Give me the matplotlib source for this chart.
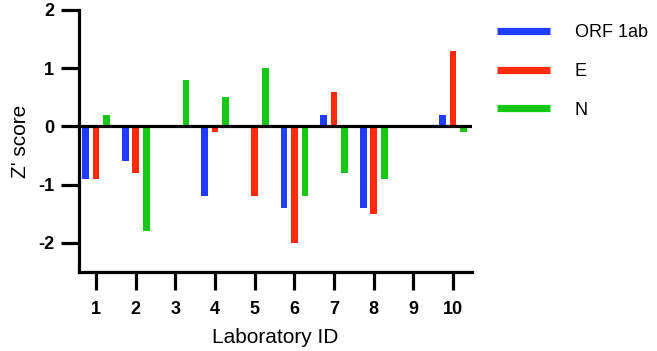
import matplotlib
matplotlib.use("Agg")
import matplotlib.pyplot as plt
import numpy as np
from matplotlib.lines import Line2D

plt.rcParams['font.family'] = ['Liberation Sans', 'DejaVu Sans']

labs = ["1", "2", "3", "4", "5", "6", "7", "8", "9", "10"]
series_names = ["ORF 1ab", "E", "N"]
orf1ab = [-0.9, -0.6, 0.0, -1.2, 0.0, -1.4, 0.2, -1.4, 0.0, 0.2]
e_gene = [-0.9, -0.8, 0.0, -0.1, -1.2, -2.0, 0.6, -1.5, 0.0, 1.3]
n_gene = [0.2, -1.8, 0.8, 0.5, 1.0, -1.2, -0.8, -0.9, 0.0, -0.1]
colors = ["#1f3cff", "#ff2a0a", "#14c814"]

fig = plt.figure(figsize=(6.57, 3.51), dpi=100)
ax = fig.add_axes([79/657, 1-272/351, (472-79)/657, (272-10)/351])

x = np.arange(1, len(labs) + 1)
offs = [-0.26, 0.0, 0.27]
w = 0.17
for vals, off, c in zip([orf1ab, e_gene, n_gene], offs, colors):
    ax.bar(x + off, vals, width=w, color=c, zorder=2)

ax.axhline(0, color="black", lw=2.3, zorder=3)
ax.set_xlim(0.57, 10.48)
ax.set_ylim(-2.5, 2.0)
ax.set_xticks(x)
ax.set_xticklabels(labs, fontweight="bold", fontsize=13)
ax.set_yticks([-2, -1, 0, 1, 2])
ax.set_yticklabels(["-2", "-1", "0", "1", "2"], fontweight="bold", fontsize=13)
for s in ["top", "right"]:
    ax.spines[s].set_visible(False)
for s in ["left", "bottom"]:
    ax.spines[s].set_linewidth(2.3)
ax.tick_params(axis="both", length=13, width=2.3, direction="out")
ax.tick_params(axis="y", pad=5)
ax.tick_params(axis="x", pad=8)
ax.set_xlabel("Laboratory ID", fontsize=15, labelpad=7)
ax.set_ylabel("Z' score", fontsize=15, labelpad=6)

handles = [Line2D([0], [0], color=c, lw=5.2, solid_capstyle="butt") for c in colors]
fig.legend(handles, series_names, loc="upper left", bbox_to_anchor=(490/657, 1-17/351),
           frameon=False, fontsize=13, handlelength=2.9, handletextpad=1.4,
           labelspacing=1.2, borderaxespad=0)

fig.savefig("out.png", dpi=100)
